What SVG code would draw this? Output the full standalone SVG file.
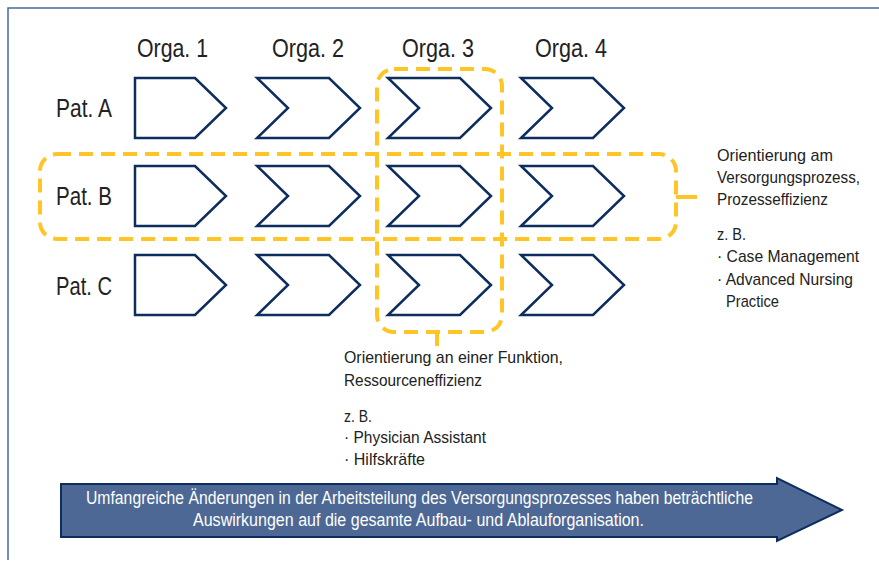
<svg xmlns="http://www.w3.org/2000/svg" width="879" height="565" viewBox="0 0 879 565">
<style>
.t{font-family:"Liberation Sans",Arial,sans-serif;fill:#222}
.h{font-size:25px}
.s{font-size:17px}
.w{font-size:17.5px;fill:#fff}
.c{fill:#fff;stroke:#0d2d5e;stroke-width:2.5;stroke-linejoin:miter}
.y{fill:none;stroke:#ffc425;stroke-width:4;stroke-dasharray:14 8}
.ys{fill:none;stroke:#ffc425;stroke-width:4}
</style>
<defs>
<path id="pent" d="M0,0 H60 L91,30 L60,60 H0 Z"/>
<path id="chev" d="M0,0 H72 L103,30 L72,60 H0 L31,30 Z"/>
</defs>
<rect width="879" height="565" fill="#fff"/>
<path d="M8,560 V8 H879" fill="none" stroke="#4a6a9a" stroke-width="1.5"/>

<g id="headers">
<text class="t h" x="137" y="57" textLength="71" lengthAdjust="spacingAndGlyphs">Orga. 1</text>
<text class="t h" x="272" y="57" textLength="72" lengthAdjust="spacingAndGlyphs">Orga. 2</text>
<text class="t h" x="402" y="57" textLength="72" lengthAdjust="spacingAndGlyphs">Orga. 3</text>
<text class="t h" x="535" y="57" textLength="72" lengthAdjust="spacingAndGlyphs">Orga. 4</text>
</g>
<g id="rows">
<text class="t h" x="56" y="117" textLength="56" lengthAdjust="spacingAndGlyphs">Pat. A</text>
<text class="t h" x="56" y="205" textLength="56" lengthAdjust="spacingAndGlyphs">Pat. B</text>
<text class="t h" x="56" y="295" textLength="56" lengthAdjust="spacingAndGlyphs">Pat. C</text>
</g>

<g id="rowA">
<use href="#pent" class="c" x="135" y="78"/>
<use href="#chev" class="c" x="257" y="78"/>
<use href="#chev" class="c" x="388" y="78"/>
<use href="#chev" class="c" x="521" y="78"/>
</g>
<g id="rowB">
<use href="#pent" class="c" x="135" y="166"/>
<use href="#chev" class="c" x="257" y="166"/>
<use href="#chev" class="c" x="388" y="166"/>
<use href="#chev" class="c" x="521" y="166"/>
</g>
<g id="rowC">
<use href="#pent" class="c" x="135" y="255"/>
<use href="#chev" class="c" x="257" y="255"/>
<use href="#chev" class="c" x="388" y="255"/>
<use href="#chev" class="c" x="521" y="255"/>
</g>

<g id="focus-function">
<rect class="y" x="377" y="69" width="125" height="263" rx="17"/>
</g>
<g id="focus-process">
<rect class="y" x="40" y="154" width="636" height="85" rx="17"/>
</g>
<g id="connectors">
<line class="ys" x1="437" y1="332" x2="437" y2="346"/>
<line class="ys" x1="676" y1="197" x2="697" y2="197"/>
</g>

<g id="label-process">
<text class="t s" x="717" y="161" textLength="116" lengthAdjust="spacingAndGlyphs">Orientierung am</text>
<text class="t s" x="717" y="183" textLength="143" lengthAdjust="spacingAndGlyphs">Versorgungsprozess,</text>
<text class="t s" x="717" y="205" textLength="111" lengthAdjust="spacingAndGlyphs">Prozesseffizienz</text>
<text class="t s" x="717" y="240" textLength="29" lengthAdjust="spacingAndGlyphs">z. B.</text>
<text class="t s" x="717" y="262" textLength="142" lengthAdjust="spacingAndGlyphs">· Case Management</text>
<text class="t s" x="717" y="285" textLength="136" lengthAdjust="spacingAndGlyphs">· Advanced Nursing</text>
<text class="t s" x="726" y="307" textLength="53" lengthAdjust="spacingAndGlyphs">Practice</text>
</g>
<g id="label-function">
<text class="t s" x="344" y="363" textLength="219" lengthAdjust="spacingAndGlyphs">Orientierung an einer Funktion,</text>
<text class="t s" x="344" y="386" textLength="138" lengthAdjust="spacingAndGlyphs">Ressourceneffizienz</text>
<text class="t s" x="344" y="422" textLength="28" lengthAdjust="spacingAndGlyphs">z. B.</text>
<text class="t s" x="344" y="443" textLength="142" lengthAdjust="spacingAndGlyphs">· Physician Assistant</text>
<text class="t s" x="344" y="465" textLength="81" lengthAdjust="spacingAndGlyphs">· Hilfskräfte</text>
</g>

<g id="bottom-arrow">
<path d="M61,484 H777 V478 L842,510 L777,541 V537 H61 Z" fill="#4d6894" stroke="#0d2d5e" stroke-width="2"/>
<text class="t w" x="86" y="504" textLength="667" lengthAdjust="spacingAndGlyphs">Umfangreiche Änderungen in der Arbeitsteilung des Versorgungsprozesses haben beträchtliche</text>
<text class="t w" x="193" y="526" textLength="451" lengthAdjust="spacingAndGlyphs">Auswirkungen auf die gesamte Aufbau- und Ablauforganisation.</text>
</g>
</svg>
